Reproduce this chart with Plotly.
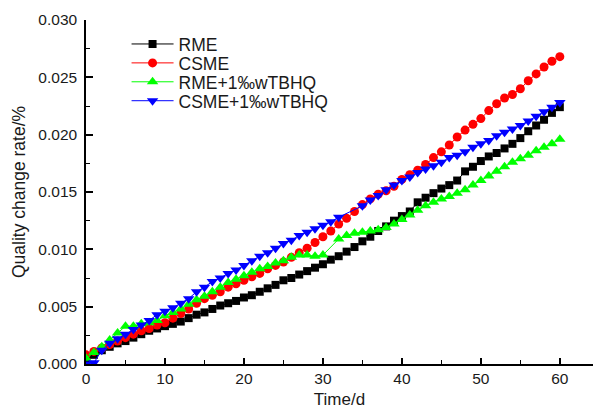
import plotly.graph_objects as go

days = list(range(0, 61))

rme = [0.0003, 0.0008, 0.0012, 0.0015, 0.0018, 0.0020, 0.0023, 0.0026, 0.0029, 0.0031,
       0.0033, 0.0035, 0.0037, 0.0040, 0.0043, 0.0045, 0.0048, 0.0051, 0.0053, 0.0055,
       0.0058, 0.0060, 0.0063, 0.0066, 0.0069, 0.0073, 0.0075, 0.0078, 0.0081, 0.0084,
       0.0087, 0.0091, 0.0094, 0.0098, 0.0102, 0.0107, 0.0111, 0.0116, 0.0120, 0.0125,
       0.0129, 0.0133, 0.0141, 0.0145, 0.0149, 0.0153, 0.0156, 0.0160, 0.0168, 0.0172,
       0.0177, 0.0181, 0.0184, 0.0188, 0.0192, 0.0197, 0.0203, 0.0208, 0.0213, 0.0219,
       0.0224]

csme = [0.0008, 0.0011, 0.0014, 0.0017, 0.0020, 0.0023, 0.0026, 0.0029, 0.0031, 0.0034,
        0.0036, 0.0040, 0.0044, 0.0048, 0.0053, 0.0057, 0.0060, 0.0063, 0.0067, 0.0070,
        0.0073, 0.0076, 0.0079, 0.0083, 0.0086, 0.0089, 0.0093, 0.0097, 0.0101, 0.0106,
        0.0111, 0.0116, 0.0122, 0.0127, 0.0133, 0.0139, 0.0144, 0.0148, 0.0151, 0.0155,
        0.0161, 0.0165, 0.0169, 0.0174, 0.0180, 0.0185, 0.0191, 0.0198, 0.0204, 0.0209,
        0.0214, 0.0221, 0.0227, 0.0232, 0.0235, 0.0240, 0.0247, 0.0253, 0.0259, 0.0264,
        0.0268]

rme_tbhq_days = [0, 1, 2, 3, 4, 5, 6, 7, 8, 9, 10, 11, 12, 13, 14, 15, 16, 17, 18, 19,
                 20, 21, 22, 23, 24, 25, 26, 27, 28, 29, 30, 32, 33, 34, 35, 36, 37, 38,
                 39, 40, 41, 42, 43, 44, 45, 46, 47, 48, 49, 50, 51, 52, 53, 54, 55, 56,
                 57, 58, 59, 60]
rme_tbhq = [0.0005, 0.0010, 0.0015, 0.0021, 0.0027, 0.0033, 0.0033, 0.0035, 0.0036, 0.0038,
            0.0042, 0.0045, 0.0048, 0.0052, 0.0056, 0.0059, 0.0063, 0.0067, 0.0071, 0.0074,
            0.0077, 0.0080, 0.0083, 0.0085, 0.0088, 0.0090, 0.0093, 0.0095, 0.0095, 0.0094,
            0.0095, 0.0109, 0.0112, 0.0114, 0.0115, 0.0116, 0.0117, 0.0119,
            0.0122, 0.0126, 0.0130, 0.0134, 0.0138, 0.0141, 0.0144, 0.0146, 0.0149, 0.0152,
            0.0156, 0.0160, 0.0164, 0.0168, 0.0172, 0.0176, 0.0179, 0.0182,
            0.0186, 0.0189, 0.0192, 0.0196]

csme_tbhq_days = [0, 1, 2, 3, 4, 5, 6, 7, 8, 9, 10, 11, 12, 13, 14, 15, 16, 17, 18, 19,
                  20, 21, 22, 23, 24, 25, 26, 27, 28, 29, 30, 31, 32, 35, 36, 37, 38, 39,
                  40, 41, 42, 43, 44, 45, 46, 47, 48, 49, 50, 51, 52, 53, 54, 55, 56, 57,
                  58, 59, 60]
csme_tbhq = [0.0000, 0.0001, 0.0012, 0.0018, 0.0022, 0.0026, 0.0030, 0.0034, 0.0038, 0.0043,
             0.0046, 0.0049, 0.0053, 0.0057, 0.0063, 0.0067, 0.0072, 0.0075, 0.0079, 0.0082,
             0.0086, 0.0090, 0.0094, 0.0097, 0.0101, 0.0105, 0.0108, 0.0112, 0.0115, 0.0118,
             0.0121, 0.0124, 0.0128, 0.0138, 0.0143, 0.0147, 0.0152, 0.0156,
             0.0160, 0.0163, 0.0167, 0.0170, 0.0173, 0.0176, 0.0180, 0.0182, 0.0185, 0.0189,
             0.0192, 0.0195, 0.0199, 0.0202, 0.0205, 0.0208, 0.0212, 0.0216,
             0.0220, 0.0224, 0.0228]

names = ["RME", "CSME", "RME+1\u2030wTBHQ", "CSME+1\u2030wTBHQ"]
xs = [days, days, rme_tbhq_days, csme_tbhq_days]
ys = [rme, csme, rme_tbhq, csme_tbhq]
colors = ["#000000", "#ff0000", "#00ff00", "#0000ff"]
symbols = ["square", "circle", "triangle-up", "triangle-down"]
sizes = [8, 9, 10, 10]
legend_ids = ["legend", "legend2", "legend3", "legend4"]
legend_rows = [0.930, 0.875, 0.820, 0.765]

fig = go.Figure()
for n, x, y, c, s, sz, lg in zip(names, xs, ys, colors, symbols, sizes, legend_ids):
    fig.add_trace(go.Scatter(
        x=x, y=y, name=n, mode="lines+markers", legend=lg,
        line=dict(color=c, width=1),
        marker=dict(symbol=s, size=sz, color=c, line=dict(width=0)),
    ))

font = "Liberation Sans, Arial, sans-serif"
legend_style = dict(x=0.08, xanchor="left", yanchor="middle",
                    bgcolor="rgba(0,0,0,0)", font=dict(size=17.5), itemwidth=42)
layout_legends = {lg: dict(legend_style, y=ry) for lg, ry in zip(legend_ids, legend_rows)}

fig.update_layout(
    width=594, height=409,
    margin=dict(l=86, r=1, t=20, b=45),
    paper_bgcolor="white", plot_bgcolor="white",
    font=dict(family=font, size=15.5, color="#1a1a1a"),
    showlegend=True,
    **layout_legends,
    xaxis=dict(
        range=[0, 64.2], dtick=10, tick0=0, automargin=False,
        showline=True, linecolor="#000000", linewidth=1.5,
        ticks="inside", ticklen=6, tickwidth=1.5, tickcolor="#000000",
        minor=dict(dtick=5, ticks="inside", ticklen=4, tickwidth=1.2, tickcolor="#000000"),
        showgrid=False, zeroline=False,
        tickfont=dict(size=15.5),
        ticklabelstandoff=0,
        title=dict(text="Time/d", font=dict(size=17), standoff=9),
    ),
    yaxis=dict(
        range=[0, 0.030], dtick=0.005, tick0=0, tickformat=".3f", automargin=False,
        showline=True, linecolor="#000000", linewidth=1.5,
        ticks="inside", ticklen=7, tickwidth=1.5, tickcolor="#000000",
        minor=dict(dtick=0.0025, ticks="inside", ticklen=4, tickwidth=1.2, tickcolor="#000000"),
        showgrid=False, zeroline=False,
        tickfont=dict(size=15.5),
        ticklabelstandoff=4,
        title=dict(text="Quality change rate/%", font=dict(size=17.5), standoff=8),
    ),
)

fig.write_html("out.html", config={"displayModeBar": False},
               post_script="document.body.style.margin='0';document.body.style.overflow='hidden';")
